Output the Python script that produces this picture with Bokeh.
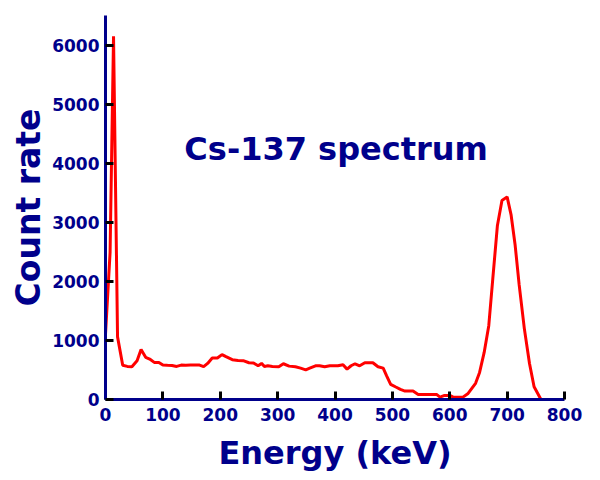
from bokeh.plotting import figure
from bokeh.models import Range1d, FixedTicker, Label
from bokeh.embed import file_html
from bokeh.resources import INLINE

energy = [0, 8, 14, 21, 30, 38, 46, 55, 62, 70, 77, 85, 93, 100, 108, 116, 124, 132, 140, 148,
          156, 164, 171, 178, 186, 195, 203, 210, 221, 231, 240, 250, 258, 266, 272, 277, 283, 291, 302, 310,
          320, 331, 340, 349, 356, 366, 373, 382, 391, 405, 414, 421, 428, 435, 443, 452, 466, 475, 484, 490,
          497, 506, 514, 522, 536, 545, 560, 577, 583, 591, 600, 606, 614, 623, 632, 645, 652, 660, 668, 675,
          683, 691, 700, 707, 714, 721, 730, 739, 747, 759]
count_rate = [1100, 2490, 6150, 1060, 580, 560, 555, 657, 845, 714, 685, 628, 628, 582, 578, 577, 560, 582, 580, 582,
              582, 582, 555, 611, 702, 702, 760, 725, 674, 662, 657, 622, 617, 571, 611, 560, 571, 560, 554, 605,
              565, 554, 531, 502, 531, 571, 571, 554, 571, 571, 588, 514, 571, 605, 571, 622, 622, 554, 531, 400,
              257, 211, 171, 143, 143, 86, 86, 86, 40, 69, 69, 40, 40, 40, 103, 274, 458, 797, 1250, 2040,
              2940, 3370, 3430, 3120, 2610, 1940, 1200, 610, 215, 0]
x_ticks = [0, 100, 200, 300, 400, 500, 600, 700, 800]
y_ticks = [0, 1000, 2000, 3000, 4000, 5000, 6000]
title_text = "Cs-137 spectrum"
x_label = "Energy (keV)"
y_label = "Count rate"

NAVY = "#00008b"
FONT = "DejaVu Sans"

p = figure(frame_width=459, frame_height=384, output_backend="svg", toolbar_location=None,
           x_range=Range1d(0, 800), y_range=Range1d(0, 6500),
           min_border_left=105, min_border_right=20, min_border_top=15, min_border_bottom=65)
p.outline_line_color = None
p.grid.visible = False
p.background_fill_color = "white"
p.border_fill_color = "white"

p.line(energy, count_rate, line_color="red", line_width=3)

for ax in (p.xaxis[0], p.yaxis[0]):
    ax.axis_line_color = NAVY
    ax.axis_line_width = 3
    ax.major_tick_line_color = "black"
    ax.major_tick_line_width = 3
    ax.major_tick_in = 8
    ax.major_tick_out = 0
    ax.minor_tick_line_color = None
    ax.major_label_text_font = FONT
    ax.major_label_text_font_style = "bold"
    ax.major_label_text_font_size = "17px"
    ax.major_label_text_color = NAVY
    ax.axis_label_text_font = FONT
    ax.axis_label_text_font_style = "bold"
    ax.axis_label_text_color = NAVY

p.xaxis[0].axis_label_text_font_size = "32px"
p.yaxis[0].axis_label_text_font_size = "33px"
p.xaxis[0].ticker = FixedTicker(ticks=x_ticks)
p.yaxis[0].ticker = FixedTicker(ticks=y_ticks)
p.xaxis[0].axis_label = x_label
p.yaxis[0].axis_label = y_label
p.xaxis[0].major_label_standoff = 8
p.yaxis[0].major_label_standoff = 6
p.xaxis[0].axis_label_standoff = 10
p.yaxis[0].axis_label_standoff = 1

p.add_layout(Label(x=402, y=4240, text=title_text, text_align="center", text_baseline="alphabetic",
                   text_font=FONT, text_font_style="bold", text_font_size="32px", text_color=NAVY))

open("out.html", "w").write(file_html(p, INLINE))
